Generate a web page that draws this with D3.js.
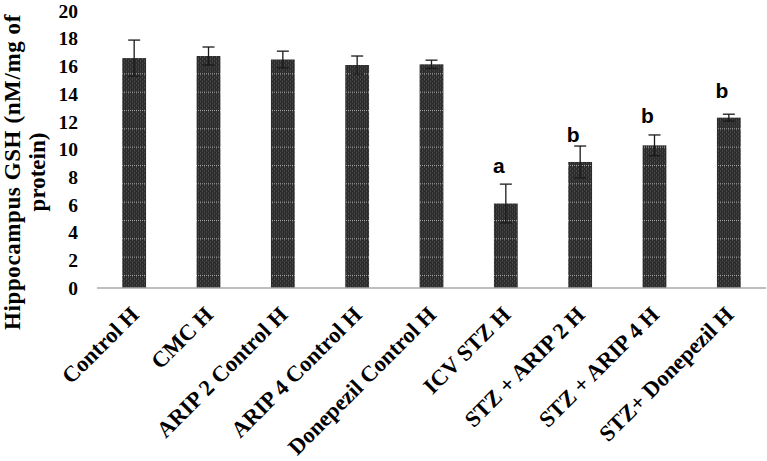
<!DOCTYPE html>
<html>
<head>
<meta charset="utf-8">
<script src="https://cdn.jsdelivr.net/npm/d3@7"></script>
<style>
  body { margin: 0; background: #fff; }
  svg { display: block; }
</style>
</head>
<body>
<div id="chart"></div>
<script>
// data
const groups = ["Control H", "CMC H", "ARIP 2 Control H", "ARIP 4 Control H",
    "Donepezil Control H", "ICV STZ H", "STZ + ARIP 2 H", "STZ + ARIP 4 H", "STZ+ Donepezil H"];
const means = [16.6, 16.75, 16.5, 16.1, 16.15, 6.1, 9.1, 10.3, 12.3];
const errors = [1.3, 0.65, 0.6, 0.65, 0.3, 1.4, 1.15, 0.75, 0.25];
const sigLetters = ["", "", "", "", "", "a", "b", "b", "b"];
const sigLevels = [null, null, null, null, null, 8.3, 10.55, 11.9, 13.7];
const yTicks = [0, 2, 4, 6, 8, 10, 12, 14, 16, 18, 20];

const width = 767, height = 461;
const plot = { left: 97, right: 766, top: 11, bottom: 288 };

const svg = d3.select("#chart").append("svg")
    .attr("width", width)
    .attr("height", height);

// dotted dark fill like the original
const defs = svg.append("defs");
const pat = defs.append("pattern")
    .attr("id", "dots")
    .attr("patternUnits", "userSpaceOnUse")
    .attr("width", 4)
    .attr("height", 18.33);
pat.append("rect").attr("width", 4).attr("height", 18.33).attr("fill", "#2b2b2b");
for (let yy = 0; yy < 18; yy += 2) {
    pat.append("rect").attr("x", (yy / 2) % 2 ? 0 : 2).attr("y", yy).attr("width", 1).attr("height", 1).attr("fill", "#585858");
    pat.append("rect").attr("x", (yy / 2) % 2 ? 2 : 0).attr("y", yy + 1).attr("width", 1).attr("height", 1).attr("fill", "#4a4a4a");
}
pat.append("rect").attr("x", 0).attr("y", 0).attr("width", 1).attr("height", 1).attr("fill", "#a8a8a8");
pat.append("rect").attr("x", 2).attr("y", 0).attr("width", 1).attr("height", 1).attr("fill", "#a8a8a8");

const x = d3.scaleBand()
    .domain(groups)
    .range([plot.left, plot.right])
    .paddingInner(0.68)
    .paddingOuter(0.34);

const y = d3.scaleLinear()
    .domain([0, 20])
    .range([plot.bottom, plot.top]);

// y tick labels (no axis line in the original)
const yAxis = svg.append("g")
    .attr("transform", `translate(78,0)`)
    .call(d3.axisLeft(y).tickValues(yTicks).tickSize(0).tickPadding(0));
yAxis.select(".domain").remove();
yAxis.selectAll("text")
    .attr("font-family", "'Liberation Serif', 'Times New Roman', serif")
    .attr("font-weight", "bold")
    .attr("font-size", "19.5px")
    .attr("fill", "#000");

// bars
svg.append("g")
    .selectAll("rect")
    .data(groups)
    .enter().append("rect")
    .attr("x", d => x(d))
    .attr("width", x.bandwidth())
    .attr("y", (d, i) => y(means[i]))
    .attr("height", (d, i) => y(0) - y(means[i]))
    .attr("fill", "url(#dots)");

// error bars
const err = svg.append("g")
    .attr("stroke", "#1a1a1a")
    .attr("stroke-width", 1.3);
groups.forEach((g, i) => {
    const cx = x(g) + x.bandwidth() / 2;
    const hi = y(means[i] + errors[i]);
    const lo = y(means[i] - errors[i]);
    err.append("line").attr("x1", cx).attr("x2", cx).attr("y1", hi).attr("y2", lo);
    err.append("line").attr("x1", cx - 6).attr("x2", cx + 6).attr("y1", hi).attr("y2", hi);
    err.append("line").attr("x1", cx - 6).attr("x2", cx + 6).attr("y1", lo).attr("y2", lo);
});

// x axis baseline
svg.append("line")
    .attr("x1", plot.left)
    .attr("x2", plot.right)
    .attr("y1", y(0))
    .attr("y2", y(0))
    .attr("stroke", "#a9a9a9")
    .attr("stroke-width", 1.5);

// rotated category labels
svg.append("g")
    .selectAll("text")
    .data(groups)
    .enter().append("text")
    .attr("transform", d => `translate(${x(d) + x.bandwidth() / 2 + 6},316) rotate(-45)`)
    .attr("text-anchor", "end")
    .attr("font-family", "'Liberation Serif', 'Times New Roman', serif")
    .attr("font-weight", "bold")
    .attr("font-size", "22.5px")
    .attr("fill", "#000")
    .text(d => d);

// significance letters
svg.append("g")
    .selectAll("text")
    .data(groups.filter((g, i) => sigLetters[i]))
    .enter().append("text")
    .attr("x", d => x(d) + x.bandwidth() / 2 - 7)
    .attr("y", d => y(sigLevels[groups.indexOf(d)]))
    .attr("text-anchor", "middle")
    .attr("font-family", "'Liberation Sans', Arial, sans-serif")
    .attr("font-weight", "bold")
    .attr("font-size", "21px")
    .attr("fill", "#000")
    .text(d => sigLetters[groups.indexOf(d)]);

// y axis title, two lines
const title = svg.append("text")
    .attr("transform", "translate(20,172) rotate(-90)")
    .attr("text-anchor", "middle")
    .attr("font-family", "'Liberation Serif', 'Times New Roman', serif")
    .attr("font-weight", "bold")
    .attr("font-size", "23px")
    .attr("fill", "#000");
title.append("tspan").attr("x", 0).attr("dy", 0)
    .attr("letter-spacing", "0.6px")
    .text("Hippocampus GSH (nM/mg of");
title.append("tspan").attr("x", 0).attr("dy", 25).text("protein)");
</script>
</body>
</html>
